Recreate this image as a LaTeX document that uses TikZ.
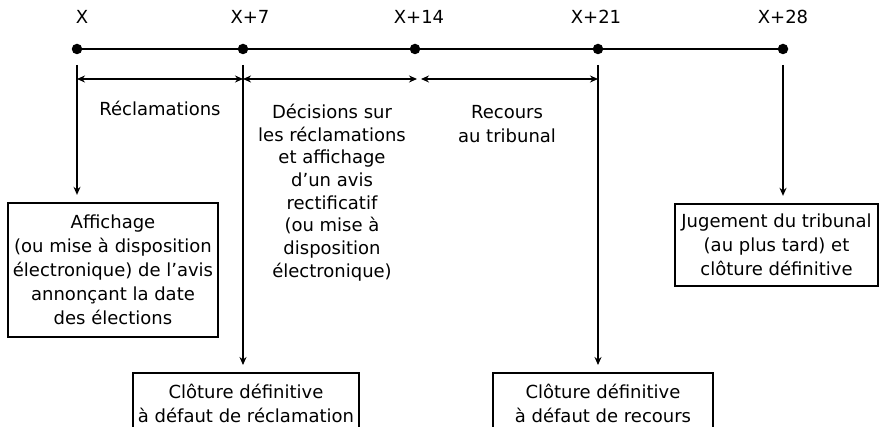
\documentclass[tikz,border=0pt]{standalone}
\usepackage{fontspec}
\setmainfont{DejaVu Sans}
\usetikzlibrary{arrows.meta}
\begin{document}
\begin{tikzpicture}[x=1pt,y=1pt,
  every node/.style={inner sep=0pt},
  lbl/.style={font=\fontsize{18}{24}\selectfont, align=center},
  mid/.style={font=\fontsize{18}{22.7}\selectfont, align=center},
  boxnode/.style={draw, line width=2.3pt, align=center, font=\fontsize{18}{24}\selectfont},
  tl/.style={line width=2.7pt},
  span/.style={line width=2.2pt, {Stealth[length=8pt,width=7pt]}-{Stealth[length=8pt,width=7pt]}},
  down/.style={line width=1.9pt, -{Stealth[length=8pt,width=7pt]}, shorten >=7pt},
  dot/.style={circle, fill, minimum size=10.5pt}
]
\useasboundingbox (0,0) rectangle (885,427);

% timeline dots
\node[dot] (d0) at (77,378) {};
\node[dot] (d1) at (243,378) {};
\node[dot] (d2) at (415,378) {};
\node[dot] (d3) at (598,378) {};
\node[dot] (d4) at (783,378) {};
\draw[tl] (d0) -- (d1) -- (d2) -- (d3) -- (d4);

% top labels
\node[lbl] (t0) at (82,410) {X};
\node[lbl] (t1) at (250,410) {X+7};
\node[lbl] (t2) at (419,410) {X+14};
\node[lbl] (t3) at (596,410) {X+21};
\node[lbl] (t4) at (783,410) {X+28};

% boxes
\node[boxnode, minimum width=210pt, minimum height=134pt] (b1) at (113,157)
  {Affichage\\(ou mise à disposition\\électronique) de l’avis\\annonçant la date\\des élections};
\node[boxnode, minimum width=226pt, minimum height=60pt, anchor=north] (b2) at (246,55)
  {Clôture définitive\\à défaut de réclamation};
\node[boxnode, minimum width=220pt, minimum height=60pt, anchor=north] (b3) at (603,55)
  {Clôture définitive\\à défaut de recours};
\node[boxnode, minimum width=203pt, minimum height=82pt] (b4) at (776.5,182)
  {Jugement du tribunal\\(au plus tard) et\\clôture définitive};

% vertical connectors
\coordinate (v0) at (77,362);
\coordinate (v1) at (243,362);
\coordinate (v3) at (598,362);
\coordinate (v4) at (783,362);
\draw[down] (v0) -- (v0 |- b1.north);
\draw[down] (v1) -- (v1 |- b2.north);
\draw[down] (v3) -- (v3 |- b3.north);
\draw[down] (v4) -- (v4 |- b4.north);

% spans
\coordinate (s0) at (77,348);
\coordinate (s1) at (243,348);
\coordinate (s2a) at (417,348);
\coordinate (s2b) at (421,348);
\coordinate (s3) at (598,348);
\draw[span] (s0) -- (s1);
\draw[span] (s1) -- (s2a);
\draw[span] (s2b) -- (s3);

% period labels
\node[lbl] (r1) at (160,319) {Réclamations};
\node[mid] (r2) at (332,234.5) {Décisions sur\\les réclamations\\et affichage\\d’un avis\\rectificatif\\(ou mise à\\disposition\\électronique)};
\node[lbl] (r3) at (507,302.5) {Recours\\au tribunal};
\end{tikzpicture}
\end{document}
